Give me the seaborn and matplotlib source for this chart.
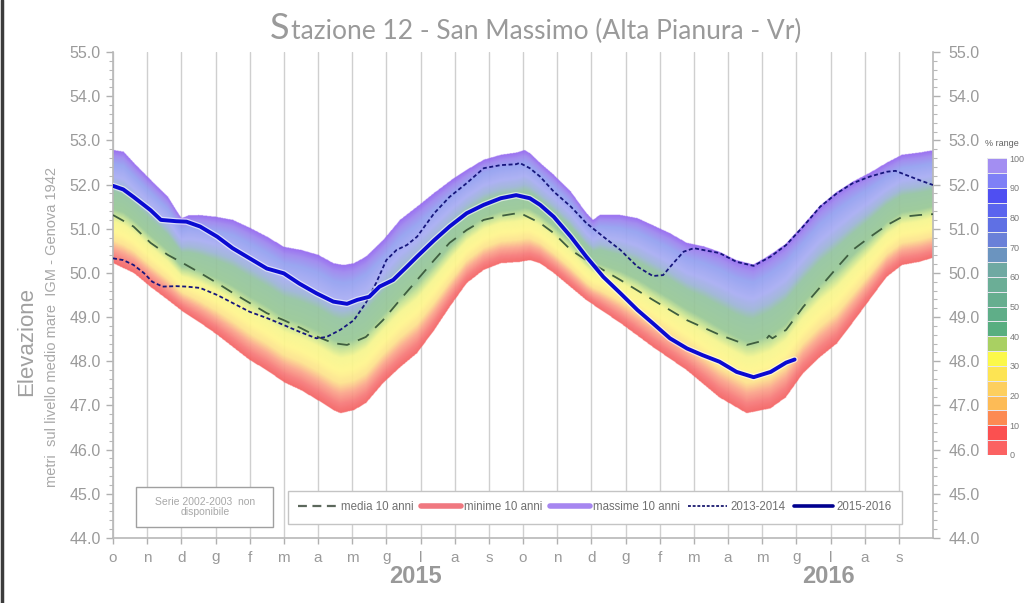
import numpy as np
import matplotlib
matplotlib.use("Agg")
import matplotlib.pyplot as plt
import matplotlib.patheffects as pe
import matplotlib.transforms as mtransforms
import seaborn as sns
from matplotlib.colors import LinearSegmentedColormap, ListedColormap
from matplotlib.lines import Line2D
from matplotlib.patches import Rectangle
from matplotlib.ticker import MultipleLocator, FixedLocator, FormatStrFormatter

# x = months since 1 October 2014, y = metri s.l.m.
max_month = [0, 0.3, 0.6, 1.1, 1.6, 1.9, 2.0, 2.2, 2.5, 3.0, 3.5, 4.0, 4.5, 5.0, 5.5, 6.0,
             6.45, 6.75, 7.05, 7.4, 7.9, 8.4, 8.9, 9.4, 9.9, 10.35, 10.85, 11.35, 11.8, 12.05,
             12.2, 12.5, 12.9, 13.4, 13.85, 14.05, 14.25, 14.85, 15.35, 15.8, 16.3, 16.8, 17.3,
             17.75, 18.25, 18.75, 19.2, 19.7, 20.2, 20.7, 21.2, 21.65, 22.15, 22.65, 23.1, 23.6, 24.0]
max_val = [52.78, 52.74, 52.49, 52.10, 51.72, 51.35, 51.24, 51.30, 51.31, 51.27, 51.20, 51.02,
           50.82, 50.59, 50.52, 50.41, 50.22, 50.18, 50.22, 50.37, 50.74, 51.20, 51.50, 51.81,
           52.10, 52.33, 52.56, 52.67, 52.72, 52.78, 52.71, 52.49, 52.22, 51.84, 51.36, 51.20,
           51.31, 51.31, 51.24, 51.08, 50.90, 50.68, 50.60, 50.48, 50.29, 50.19, 50.39, 50.66,
           51.08, 51.52, 51.84, 52.06, 52.26, 52.49, 52.67, 52.72, 52.77]

min_month = [0, 0.6, 1.1, 1.6, 2.05, 2.55, 3.05, 3.5, 4.0, 4.5, 5.0, 5.5, 6.0, 6.45, 6.65, 7.05,
             7.4, 7.9, 8.4, 8.9, 9.4, 9.85, 10.35, 10.85, 11.35, 11.9, 12.2, 12.5, 12.9, 13.4,
             13.85, 14.85, 15.8, 16.8, 17.75, 18.55, 19.25, 19.7, 20.2, 20.7, 21.2, 21.65, 22.15,
             22.65, 23.1, 23.6, 24.0]
min_val = [50.22, 50.0, 49.68, 49.39, 49.12, 48.87, 48.6, 48.33, 48.03, 47.80, 47.53, 47.35,
           47.12, 46.90, 46.83, 46.90, 47.06, 47.51, 47.87, 48.19, 48.71, 49.23, 49.77, 50.07,
           50.22, 50.25, 50.29, 50.22, 50.0, 49.68, 49.39, 48.87, 48.33, 47.80, 47.19, 46.83,
           46.94, 47.19, 47.73, 48.10, 48.41, 48.87, 49.39, 49.91, 50.18, 50.25, 50.34]

mean_month = [0, 0.6, 1.1, 1.6, 2.05, 2.55, 3.05, 3.5, 4.0, 4.5, 5.0, 5.5, 6.0, 6.45, 6.85, 7.4,
              7.9, 8.4, 8.9, 9.4, 9.85, 10.35, 10.85, 11.35, 11.9, 12.5, 12.9, 13.4, 13.85, 14.85,
              15.8, 16.8, 17.75, 18.55, 19.1, 19.2, 19.3, 19.7, 20.2, 20.7, 21.2, 21.65, 22.15,
              22.65, 23.1, 23.6, 24.0]
mean_val = [51.31, 51.05, 50.68, 50.41, 50.22, 50.0, 49.77, 49.55, 49.32, 49.09, 48.93, 48.75,
            48.55, 48.41, 48.37, 48.55, 48.93, 49.39, 49.84, 50.29, 50.68, 50.97, 51.20, 51.29,
            51.36, 51.13, 50.90, 50.52, 50.29, 49.84, 49.39, 48.93, 48.6, 48.37, 48.48, 48.58,
            48.52, 48.71, 49.23, 49.68, 50.13, 50.52, 50.81, 51.08, 51.27, 51.31, 51.33]

y1314_month = [0, 0.3, 0.6, 0.9, 1.15, 1.45, 1.85, 2.15, 2.55, 3.05, 3.5, 4.0, 4.5, 5.0, 5.45,
               5.95, 6.25, 6.65, 7.05, 7.4, 7.7, 8.0, 8.3, 8.6, 8.9, 9.4, 9.85, 10.35, 10.85,
               11.35, 11.8, 11.9, 12.2, 12.5, 12.9, 13.4, 13.85, 14.35, 14.85, 15.35, 15.8, 16.1,
               16.4, 16.7, 17.0, 17.4, 17.75, 18.25, 18.75, 19.25, 19.7, 20.2, 20.7, 21.2, 21.65,
               22.15, 22.65, 22.9, 23.1, 23.6, 24.0]
y1314_val = [50.33, 50.29, 50.18, 50.0, 49.80, 49.69, 49.70, 49.69, 49.66, 49.50, 49.32, 49.12,
             48.98, 48.82, 48.67, 48.52, 48.55, 48.71, 48.93, 49.32, 49.77, 50.29, 50.52, 50.63,
             50.82, 51.35, 51.72, 52.03, 52.37, 52.44, 52.46, 52.49, 52.37, 52.18, 51.84, 51.50,
             51.13, 50.82, 50.52, 50.14, 49.93, 49.95, 50.22, 50.48, 50.56, 50.50, 50.45, 50.25,
             50.16, 50.37, 50.63, 51.05, 51.50, 51.81, 52.03, 52.18, 52.29, 52.31, 52.25, 52.10,
             51.99]

y1516_month = [0, 0.3, 0.6, 1.1, 1.4, 1.85, 2.15, 2.55, 3.05, 3.5, 4.0, 4.5, 5.0, 5.45, 5.95,
               6.45, 6.85, 7.15, 7.5, 7.8, 8.2, 8.6, 8.9, 9.4, 9.85, 10.35, 10.85, 11.35, 11.8,
               12.2, 12.5, 12.9, 13.4, 13.85, 14.35, 14.85, 15.35, 15.8, 16.3, 16.8, 17.25, 17.75,
               18.25, 18.75, 19.25, 19.7, 19.95]
y1516_val = [51.97, 51.89, 51.72, 51.42, 51.20, 51.17, 51.16, 51.05, 50.82, 50.56, 50.33, 50.10,
             49.99, 49.76, 49.54, 49.35, 49.30, 49.39, 49.46, 49.69, 49.84, 50.14, 50.37, 50.74,
             51.05, 51.35, 51.54, 51.69, 51.76, 51.69, 51.54, 51.27, 50.82, 50.37, 49.91, 49.54,
             49.16, 48.86, 48.52, 48.29, 48.14, 47.99, 47.76, 47.64, 47.76, 47.97, 48.04]

month_labels = ["o", "n", "d", "g", "f", "m", "a", "m", "g", "l", "a", "s"] * 2
year_labels = ["2015", "2016"]
year_pos = [8.85, 20.95]
legend_labels = ["media 10 anni", "minime 10 anni", "massime 10 anni", "2013-2014", "2015-2016"]
pct_labels = ["100", "90", "80", "70", "60", "50", "40", "30", "20", "10", "0"]
# colour scale of the "% range" bar, from 0-5 % up to 95-100 %
pct_colors = ["#fb6262", "#fb5050", "#fc8a52", "#fdbb56", "#fdcf5e", "#fde453", "#fbf84a",
              "#a9d062", "#58ae80", "#5fae88", "#66ae8f", "#6bae96", "#6fa9a2", "#6b94bf",
              "#6a80d8", "#5f70e4", "#5a64ee", "#4f4ff2", "#7f80f6", "#a38ef2"]

GREY = "#9a9a9a"

sns.set_style("white")
plt.rcParams["font.family"] = ["Liberation Sans", "DejaVu Sans"]

fig = plt.figure(figsize=(10.24, 6.03), dpi=100)
W, H = 1024, 603
ax = fig.add_axes([113 / W, 1 - 538 / H, 820 / W, 486 / H])

# percentile band between the 10-year minima and maxima
band_cmap = LinearSegmentedColormap.from_list("band", [
    (0.00, "#f46262"), (0.06, "#f77878"), (0.13, "#fba48a"), (0.20, "#fde28c"),
    (0.28, "#fff68c"), (0.37, "#f6f68e"), (0.43, "#c4e292"), (0.48, "#98c896"),
    (0.63, "#94c4a0"), (0.69, "#9cb4d6"), (0.77, "#a8acf4"), (0.88, "#93a0f0"),
    (0.95, "#9c86ee"), (1.00, "#9466f0")])
xg = np.linspace(0, 24, 1201)
yg = np.linspace(46.5, 53.0, 651)
lo = np.interp(xg, min_month, min_val)
hi = np.interp(xg, max_month, max_val)
frac = (yg[:, None] - lo[None, :]) / (hi - lo)[None, :]
rgba = band_cmap(np.clip(frac, 0, 1))
rgba[..., 3] = np.where((frac >= 0) & (frac <= 1), 0.93, 0.0)
ax.imshow(rgba, extent=[0, 24, 46.5, 53.0], origin="lower", aspect="auto",
          interpolation="bilinear", zorder=1)

sns.lineplot(x=mean_month, y=mean_val, ax=ax, color="#3f5e3f", lw=1.3,
             linestyle=(0, (7, 5)), zorder=3)
sns.lineplot(x=y1314_month, y=y1314_val, ax=ax, color="#16167c", lw=1.3,
             linestyle=(0, (2.2, 1.4)), zorder=3)
sns.lineplot(x=y1516_month, y=y1516_val, ax=ax, color="#0a0ad2", lw=2.8, zorder=4,
             path_effects=[pe.Stroke(linewidth=4.6, foreground="white", alpha=0.6), pe.Normal()])

ax.set_xlim(0, 24)
ax.set_ylim(44, 55)
ax.set_xlabel("")
ax.set_ylabel("")

ax.set_xticks(range(24))
ax.set_xticklabels(month_labels)
ax.xaxis.set_minor_locator(FixedLocator([3, 15]))
ax.tick_params(axis="x", which="major", bottom=True, length=4, width=1, color="#b0b0b0",
               pad=5, labelsize=11, labelcolor=GREY)
ax.tick_params(axis="x", which="minor", bottom=True, length=13, width=1.2, color="#a8a8a8")
ax.grid(axis="x", which="major", color="#cfcfcf", lw=1)
ax.set_axisbelow(True)

ax.yaxis.set_major_locator(MultipleLocator(1))
ax.yaxis.set_minor_locator(MultipleLocator(0.2))
ax.yaxis.set_major_formatter(FormatStrFormatter("%.1f"))
ax.tick_params(axis="y", which="major", left=True, length=5, width=1, color="#b0b0b0",
               pad=4, labelsize=11.5, labelcolor=GREY)
ax.tick_params(axis="y", which="minor", left=True, length=3, width=0.8, color="#b8b8b8")

for side in ("left", "bottom", "right"):
    ax.spines[side].set_color("#b8b8b8")
    ax.spines[side].set_linewidth(1.2)
ax.spines["top"].set_visible(False)

ax2 = ax.twinx()
ax2.set_ylim(44, 55)
ax2.yaxis.set_major_locator(MultipleLocator(1))
ax2.yaxis.set_minor_locator(MultipleLocator(0.2))
ax2.yaxis.set_major_formatter(FormatStrFormatter("%.1f"))
ax2.tick_params(axis="y", which="major", right=True, length=5, width=1, color="#b0b0b0",
                pad=6, labelsize=11.5, labelcolor=GREY)
ax2.tick_params(axis="y", which="minor", right=True, length=3, width=0.8, color="#b8b8b8")
for s in ax2.spines.values():
    s.set_visible(False)

# year labels under the month axis
trans = mtransforms.blended_transform_factory(ax.transData, ax.transAxes)
for pos, lab in zip(year_pos, year_labels):
    ax.text(pos, -0.080, lab, transform=trans, ha="center", va="center", fontsize=17,
            fontweight="bold", color="#999999")

# legend
handles = [
    Line2D([], [], color="#5c685c", lw=1.6, ls=(0, (4, 2.5))),
    Line2D([], [], color="#f07880", lw=4),
    Line2D([], [], color="#a686f0", lw=4),
    Line2D([], [], color="#1a1a70", lw=1.3, ls=(0, (1.6, 1.0))),
    Line2D([], [], color="#00008f", lw=2.6),
]
leg = ax.legend(handles, legend_labels, loc="center", ncol=5, mode="expand",
                bbox_to_anchor=(169 / 820, 11 / 486, 626 / 820, 39 / 486),
                frameon=True, fancybox=False, fontsize=8.3, labelcolor="#707070",
                handlelength=3.4, handletextpad=0.3, borderpad=0.9, framealpha=1)
leg.get_frame().set_edgecolor("#c4c4c4")
leg.get_frame().set_linewidth(1)

ax.add_patch(Rectangle((23 / 820, 11 / 486), 137 / 820, 40 / 486, transform=ax.transAxes,
                       facecolor="white", edgecolor="#a0a0a0", lw=1, zorder=5))
ax.text(92 / 820, 31 / 486, "Serie 2002-2003  non\ndisponibile", transform=ax.transAxes,
        ha="center", va="center", fontsize=7.5, color="#a8a8a8", zorder=6, linespacing=1.1)

# y axis titles
fig.text(27 / W, 1 - 342 / H, "Elevazione", rotation=90, ha="center", va="center",
         fontsize=16, color="#a0a0a0")
fig.text(52 / W, 1 - 327 / H, "metri  sul livello medio mare  IGM - Genova 1942",
         rotation=90, ha="center", va="center", fontsize=10.5, color="#a8a8a8")

# title, with a larger first letter
renderer = fig.canvas.get_renderer()
t_s = fig.text(0, 1 - 39 / H, "S", fontsize=26, color="#9a9a9a", family="Lato", va="baseline")
t_r = fig.text(0, 1 - 39 / H, "tazione 12 - San Massimo (Alta Pianura - Vr)", fontsize=19,
               color="#9a9a9a", family="Lato", va="baseline")
w_s = t_s.get_window_extent(renderer).width
w_r = t_r.get_window_extent(renderer).width
x0 = 535 - (w_s + w_r) / 2
t_s.set_x(x0 / W)
t_r.set_x((x0 + w_s + 1) / W)

# % range colour bar
cax = fig.add_axes([987 / W, 1 - 455 / H, 20 / W, 297 / H])
bar = np.arange(20)[::-1].reshape(-1, 1)
sns.heatmap(bar, ax=cax, cmap=ListedColormap(pct_colors), vmin=-0.5, vmax=19.5, cbar=False,
            linewidths=0.6, linecolor="#e6e6ee", xticklabels=False, yticklabels=False)
cax.set_yticks(np.arange(0, 21, 2))
cax.set_yticklabels(pct_labels)
cax.yaxis.tick_right()
cax.tick_params(axis="y", length=0, pad=2, labelsize=6.5, labelcolor="#7a7a7a")
fig.text(1002 / W, 1 - 143 / H, "% range", ha="center", va="center", fontsize=6.5,
         color="#606060")

# dark border on the left edge
fig.add_artist(Line2D([0.0015, 0.0015], [0, 1], transform=fig.transFigure, color="#3c3c3c",
                      lw=2.5))

fig.savefig("out.png", dpi=100)
plt.close(fig)
